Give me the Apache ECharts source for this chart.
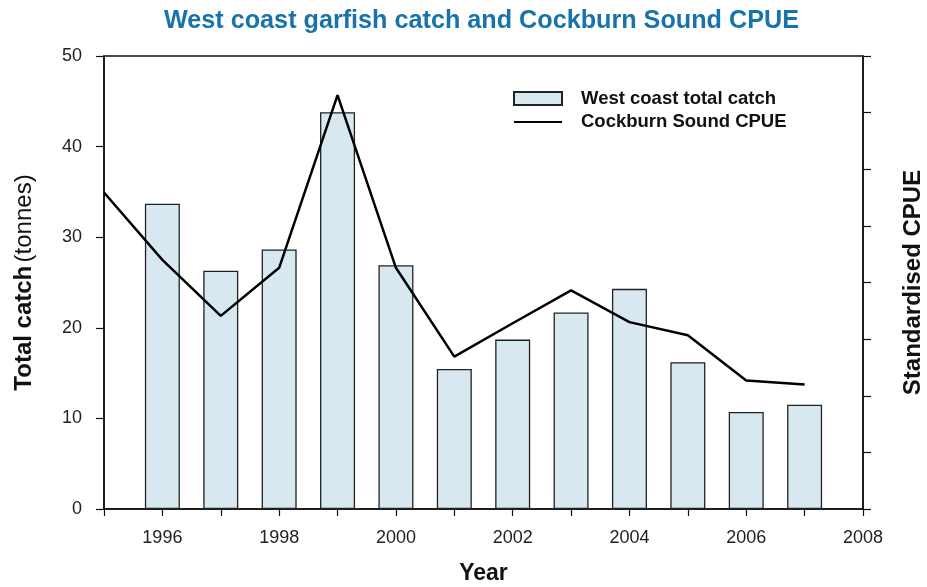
<!DOCTYPE html>
<html>
<head>
<meta charset="utf-8">
<script src="https://cdn.jsdelivr.net/npm/echarts@6/dist/echarts.min.js"></script>
<style>html,body{margin:0;padding:0;background:#fff;}#c{width:927px;height:587px;}</style>
</head>
<body>
<div id="c"></div>
<script>
const catchYears = [1996, 1997, 1998, 1999, 2000, 2001, 2002, 2003, 2004, 2005, 2006, 2007];
const catchTonnes = [33.7, 26.3, 28.65, 43.8, 26.9, 15.45, 18.7, 21.7, 24.3, 16.2, 10.7, 11.5];
const cpueYears = [1995, 1996, 1997, 1998, 1999, 2000, 2001, 2002, 2003, 2004, 2005, 2006, 2007];
// CPUE on the right axis (0-8 scale, unlabelled in original)
const cpueValues = [5.59, 4.40, 3.41, 4.26, 7.31, 4.26, 2.69, 3.28, 3.86, 3.30, 3.07, 2.27, 2.20];
const leftTicks = [0, 10, 20, 30, 40, 50];

const FONT = '"Liberation Sans", Arial, sans-serif';
const chart = echarts.init(document.getElementById('c'), null, {renderer: 'canvas'});
chart.setOption({
  animation: false,
  backgroundColor: '#fff',
  title: {
    text: 'West coast garfish catch and Cockburn Sound CPUE',
    left: 159, top: 4,
    textStyle: {color: '#1873ab', fontSize: 25.2, fontWeight: 'bold', fontFamily: FONT}
  },
  legend: {
    orient: 'vertical', left: 508, top: 84, itemWidth: 48, itemHeight: 13, itemGap: 4.5,
    textStyle: {color: '#111', fontSize: 18.5, fontWeight: 'bold', fontFamily: FONT, padding: [0, 0, 0, 14]},
    data: [
      {name: 'West coast total catch', icon: 'rect'},
      {name: 'Cockburn Sound CPUE', itemStyle: {color: 'rgba(0,0,0,0)', borderWidth: 0, opacity: 0}}
    ]
  },
  grid: {left: 104, right: 64, top: 56, bottom: 78, show: true, borderColor: '#111', borderWidth: 1.5,
         backgroundColor: 'transparent', containLabel: false, outerBoundsMode: 'none'},
  xAxis: {
    type: 'value', min: 1995, max: 2008, interval: 1,
    name: 'Year', nameLocation: 'middle', nameGap: 53,
    nameTextStyle: {color: '#111', fontSize: 23, fontWeight: 'bold', fontFamily: FONT},
    axisLine: {show: true, lineStyle: {color: '#111', width: 1.5}},
    axisTick: {show: true, inside: false, length: 7, lineStyle: {color: '#111', width: 1.2}},
    axisLabel: {color: '#222', fontSize: 18, fontFamily: FONT, margin: 20,
      formatter: v => (v % 2 === 0 ? String(v) : '')},
    splitLine: {show: false}
  },
  yAxis: [{
    type: 'value', min: 0, max: 50, interval: 10,
    name: '{b|Total catch} {n|(tonnes)}', nameLocation: 'middle', nameGap: 68, nameRotate: 90,
    nameTextStyle: {color: '#111', fontFamily: FONT,
      rich: {b: {fontSize: 24, fontWeight: 'bold', color: '#111', fontFamily: FONT},
             n: {fontSize: 24, color: '#111', fontFamily: FONT}}},
    axisLine: {show: true, lineStyle: {color: '#111', width: 1.5}},
    axisTick: {show: true, inside: false, length: 8, lineStyle: {color: '#111', width: 1.2}},
    axisLabel: {color: '#222', fontSize: 18, fontFamily: FONT, margin: 22,
      formatter: v => (leftTicks.indexOf(v) >= 0 ? String(v) : '')},
    splitLine: {show: false}
  }, {
    type: 'value', min: 0, max: 8, interval: 1, position: 'right',
    name: 'Standardised CPUE', nameLocation: 'middle', nameGap: 38, nameRotate: 90,
    nameTextStyle: {color: '#111', fontSize: 24, fontWeight: 'bold', fontFamily: FONT},
    axisLine: {show: true, lineStyle: {color: '#111', width: 1.5}},
    axisTick: {show: true, inside: false, length: 8, lineStyle: {color: '#111', width: 1.2}},
    axisLabel: {show: false},
    splitLine: {show: false}
  }],
  series: [{
    name: 'West coast total catch', type: 'bar', yAxisIndex: 0, barWidth: 35,
    itemStyle: {color: '#d8e8f1', borderColor: '#222', borderWidth: 1.3},
    data: catchYears.map((y, i) => [y, catchTonnes[i]])
  }, {
    name: 'Cockburn Sound CPUE', type: 'line', yAxisIndex: 1, symbol: 'none',
    lineStyle: {color: '#000', width: 2.5}, itemStyle: {color: '#000'},
    data: cpueYears.map((y, i) => [y, cpueValues[i]]), z: 5
  }]
});
</script>
</body>
</html>
